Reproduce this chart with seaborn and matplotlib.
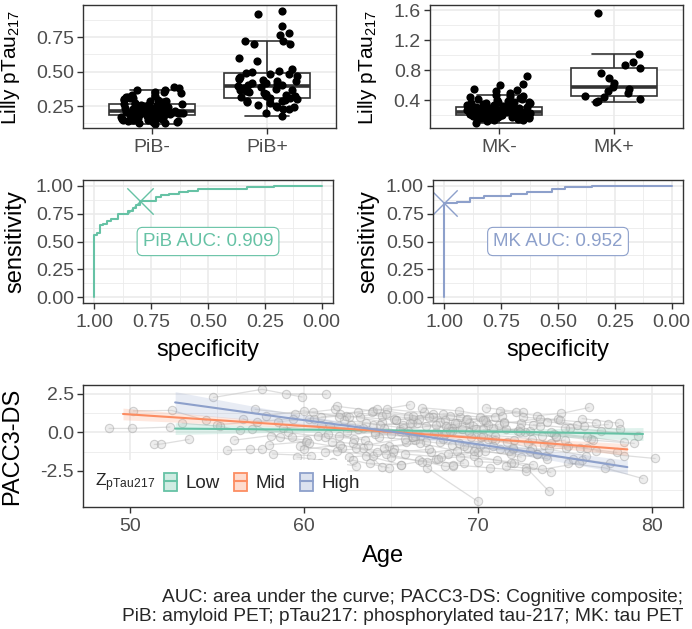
import matplotlib
matplotlib.use('Agg')
import matplotlib.pyplot as plt
from matplotlib.patches import Rectangle, Patch
from matplotlib.lines import Line2D
from matplotlib.ticker import FixedLocator
import seaborn as sns
import pandas as pd
import numpy as np

# ---------------- data ----------------
pib_neg = [0.12, 0.126, 0.13, 0.133, 0.137, 0.14, 0.142, 0.146, 0.147, 0.15,
           0.152, 0.155, 0.158, 0.161, 0.163, 0.166, 0.17, 0.172, 0.175, 0.178, 0.181, 0.184,
           0.186, 0.188, 0.19, 0.191, 0.193, 0.195, 0.196, 0.197, 0.199, 0.2, 0.201, 0.203,
           0.204, 0.205, 0.206, 0.207, 0.208, 0.21, 0.21, 0.211, 0.212, 0.213, 0.214,
           0.216, 0.218, 0.22, 0.222, 0.225, 0.226, 0.228, 0.23, 0.232, 0.235, 0.236, 0.238,
           0.24, 0.243, 0.245, 0.247, 0.25, 0.252, 0.255, 0.257, 0.26, 0.262, 0.264,
           0.268, 0.272, 0.277, 0.28, 0.284, 0.289, 0.292, 0.296, 0.3, 0.305, 0.31, 0.314,
           0.318, 0.32, 0.33, 0.342, 0.35, 0.355, 0.364, 0.37, 0.38, 0.386]
pib_pos = [0.18, 0.2, 0.225, 0.23, 0.245, 0.245, 0.25, 0.26, 0.27, 0.28, 0.285, 0.29,
           0.295, 0.3, 0.305, 0.31, 0.315, 0.32, 0.325, 0.33, 0.34, 0.345, 0.35, 0.36,
           0.365, 0.37, 0.375, 0.38, 0.39, 0.395, 0.4, 0.405, 0.41, 0.415, 0.42, 0.43,
           0.435, 0.44, 0.45, 0.455, 0.46, 0.47, 0.48, 0.485, 0.49, 0.5, 0.505, 0.52,
           0.578, 0.597, 0.699, 0.70, 0.723, 0.726, 0.77, 0.78, 0.835, 0.917, 0.944]
mk_neg = [0.10, 0.12, 0.13, 0.14, 0.145, 0.15, 0.15, 0.155, 0.16, 0.16,
          0.165, 0.168, 0.17, 0.172, 0.175, 0.178, 0.18, 0.182, 0.185, 0.187,
          0.19, 0.192, 0.195, 0.197, 0.198, 0.2, 0.2, 0.202, 0.203, 0.204,
          0.205, 0.207, 0.209, 0.21, 0.212, 0.214, 0.215, 0.217, 0.219, 0.22,
          0.222, 0.224, 0.225, 0.227, 0.229, 0.23, 0.232, 0.233, 0.235, 0.236,
          0.237, 0.238, 0.239, 0.24, 0.241, 0.242, 0.243, 0.244, 0.245, 0.245,
          0.247, 0.249, 0.25, 0.252, 0.254, 0.256, 0.258, 0.26, 0.262, 0.264,
          0.266, 0.268, 0.27, 0.272, 0.275, 0.277, 0.28, 0.282, 0.284, 0.286,
          0.288, 0.29, 0.292, 0.295, 0.297, 0.3, 0.302, 0.305, 0.308, 0.31,
          0.315, 0.32, 0.325, 0.33, 0.335, 0.34, 0.345, 0.35, 0.355, 0.36,
          0.365, 0.37, 0.375, 0.38, 0.39, 0.4, 0.41, 0.42, 0.43, 0.44,
          0.45, 0.46, 0.47, 0.5, 0.52, 0.53, 0.55, 0.6, 0.62, 0.72]
mk_pos = [0.374, 0.39, 0.41, 0.435, 0.457, 0.487, 0.52, 0.55, 0.58, 0.63, 0.69,
          0.76, 0.826, 0.87, 0.913, 1.017, 1.566]

pib_spec = [1.0, 1.0, 0.99, 0.99, 0.975, 0.975, 0.96, 0.96, 0.945, 0.945, 0.925, 0.925,
            0.895, 0.895, 0.87, 0.87, 0.85, 0.85, 0.83, 0.83, 0.815, 0.815, 0.8, 0.8,
            0.728, 0.728, 0.706, 0.706, 0.67, 0.67, 0.626, 0.626, 0.59, 0.59, 0.546, 0.546,
            0.327, 0.327, 0.211, 0.211, 0.0]
pib_sens = [0.0, 0.558, 0.558, 0.573, 0.573, 0.644, 0.644, 0.66, 0.66, 0.682, 0.682, 0.70,
            0.70, 0.742, 0.742, 0.75, 0.75, 0.77, 0.77, 0.80, 0.80, 0.83, 0.83, 0.866,
            0.866, 0.896, 0.896, 0.914, 0.914, 0.926, 0.926, 0.944, 0.944, 0.955, 0.955, 0.97,
            0.97, 0.985, 0.985, 1.0, 1.0]
pib_best = (0.80, 0.866)
pib_auc = 0.909

mk_spec = [1.0, 1.0, 0.944, 0.944, 0.886, 0.886, 0.827, 0.827, 0.707, 0.707, 0.637, 0.637,
           0.527, 0.527, 0.469, 0.469, 0.351, 0.351, 0.0]
mk_sens = [0.0, 0.84, 0.84, 0.855, 0.855, 0.89, 0.89, 0.905, 0.905, 0.926, 0.926, 0.947,
           0.947, 0.973, 0.973, 0.988, 0.988, 1.0, 1.0]
mk_best = (1.0, 0.84)
mk_auc = 0.952

# longitudinal visits, one inner list per participant
visit_age = [[48.8, 50.1, 52.3], [51.4, 51.8, 53.4], [50.2, 52.4, 54.4], [54.8, 57.6, 59.9],
             [55.6, 56.9, 57.6], [53.0, 55.2, 56.3], [56.5, 58.6, 60.2], [59.0, 61.3],
             [57.2, 59.5, 61.8], [58.0, 60.1, 62.2], [58.8, 61.0, 63.1], [59.6, 61.7, 63.0],
             [60.3, 62.4, 64.5], [60.8, 62.9, 65.0], [61.2, 63.4, 64.5], [61.9, 64.0, 66.1],
             [62.5, 64.6, 66.7], [62.8, 64.9, 67.0], [63.2, 65.3, 67.4], [63.6, 65.6, 67.6],
             [64.0, 66.2, 68.3], [64.3, 66.4, 68.5], [64.8, 66.9, 69.0], [65.2, 67.3, 69.4],
             [65.5, 67.6, 69.7], [65.9, 68.0, 70.1], [66.3, 68.4, 70.5], [66.6, 68.1, 68.6],
             [67.1, 70.0], [67.0, 69.1, 71.2], [67.5, 69.6, 71.7], [68.0, 70.1, 72.2],
             [68.3, 70.4, 72.5], [68.8, 70.9, 73.0], [69.2, 71.3, 73.4], [69.5, 71.6, 73.7],
             [70.0, 72.1, 74.2], [70.4, 72.5, 74.6], [70.8, 72.9, 75.0], [71.3, 73.4, 74.8, 76.4],
             [71.8, 73.9, 76.0], [72.3, 74.4, 76.5], [72.8, 74.1], [73.2, 75.3, 77.5],
             [73.8, 75.9, 78.0], [74.5, 76.6, 79.0], [75.2, 77.3, 79.5], [76.0, 78.1],
             [76.8, 78.4, 80.2], [57.0, 59.1, 61.2], [59.8, 61.9, 64.0], [61.5, 63.6, 65.7],
             [62.0, 64.1, 66.2], [63.0, 65.1, 67.2], [64.5, 66.6, 68.7], [65.0, 67.1, 69.2],
             [66.0, 68.1, 70.2], [67.8, 69.9, 72.0], [68.5, 70.6, 72.7], [69.0, 71.1, 73.2],
             [70.5, 72.6], [71.0, 73.1, 75.2], [72.0, 74.1, 76.2], [60.5, 62.6, 64.7],
             [63.8, 65.6], [58.2, 60.4], [66.8, 68.9, 71.0], [74.0, 76.1, 78.2],
             [62.3, 64.4, 66.5], [65.7, 67.8, 69.9],
             [58.5, 60.6, 62.7], [59.3, 61.4, 63.5], [60.0, 62.1, 64.2], [61.0, 63.1, 65.2],
             [61.6, 63.7, 65.8], [62.6, 64.7, 66.8], [63.4, 65.5, 67.6], [63.9, 66.0, 68.1],
             [64.6, 66.7, 68.8], [65.3, 67.4, 69.5], [65.8, 67.9, 70.0], [66.4, 68.5, 70.6],
             [67.2, 69.3, 71.4], [67.7, 69.8, 71.9], [68.2, 70.3, 72.4], [68.9, 71.0, 73.1],
             [69.4, 71.5, 73.6], [69.8, 71.9, 74.0], [70.3, 72.4, 74.5], [70.9, 73.0, 75.1],
             [71.5, 73.6, 75.7], [72.1, 74.2, 76.3], [72.6, 74.7, 76.8], [73.4, 75.5, 77.6],
             [74.2, 76.3, 78.4], [75.0, 77.1, 79.2], [60.9, 62.8, 64.9], [62.1, 64.2, 66.3],
             [64.1, 66.3, 68.4], [66.1, 68.2, 70.3], [68.6, 70.7, 72.8], [71.6, 73.7, 75.8],
             [55.0, 57.3, 59.4], [56.0, 58.1, 60.3], [57.8, 60.0, 62.0]]
visit_pacc = [[0.26, 0.26, 0.35], [-0.78, -0.75, -0.45], [1.40, 1.43, 0.78], [2.27, 2.80, 2.30],
              [-1.17, -1.10, -1.10], [0.60, 0.40, 0.13], [0.90, -0.32, -0.50], [2.50, 2.47],
              [1.50, 1.20, 1.50], [-0.80, -0.60, -1.00], [0.30, 0.50, 0.20], [-1.60, -1.90, -2.20],
              [0.90, 1.10, 0.70], [-0.20, -0.40, -0.10], [-1.30, -1.00, -2.27], [1.70, 1.40, 1.80],
              [0.00, 0.30, -0.20], [-0.70, -0.90, -0.60], [1.00, 0.80, 1.20], [-1.50, -2.10, -1.70],
              [0.50, 0.60, 0.30], [-0.30, -0.50, -0.80], [1.50, 1.30, 1.00], [-1.10, -1.30, -1.00],
              [0.20, 0.00, 0.40], [-0.60, -0.40, -0.90], [0.90, 1.10, 0.70], [-1.80, -2.20, -2.20],
              [-2.30, -4.48], [0.40, 0.20, 0.50], [-0.10, -0.30, -0.60], [1.20, 1.00, 1.30],
              [-1.40, -1.20, -1.60], [0.60, 0.30, 0.10], [-0.90, -1.10, -1.40], [0.00, 0.20, -0.20],
              [-1.90, -2.00, -2.60], [0.80, 0.60, 0.90], [-0.40, -0.70, -0.50], [1.40, 1.10, 1.23, 1.62],
              [-1.20, -1.50, -1.80], [0.10, -0.10, -0.40], [-2.30, -3.83], [0.50, 0.30, 0.52],
              [-0.80, -1.00, -1.30], [-0.20, -0.50, -0.71], [-2.00, -2.30, -3.00], [0.90, 0.60],
              [-1.20, -1.50, -1.69], [0.20, 0.00, -0.30], [-0.90, -1.20, -1.50], [0.40, 0.60, 0.30],
              [-0.20, 0.00, -0.30], [-1.00, -1.30, -1.10], [1.10, 0.90, 0.60], [-1.60, -1.90, -2.00],
              [0.10, -0.10, -0.30], [-0.60, -1.00, -1.10], [0.30, 0.50, 0.00], [-1.60, -1.80, -2.10],
              [1.60, 1.30], [-0.20, -0.40, -0.90], [-1.00, -1.10, -1.50], [1.30, 1.00, 1.20],
              [-2.00, -2.10], [-1.40, -1.50], [1.60, 1.40, 1.00], [0.70, 0.40, 0.20],
              [0.80, 0.50, 0.60], [0.50, 0.70, 0.20],
              [0.7, 0.9, 0.5], [-0.3, -0.1, -0.5], [-1.1, -0.8, -1.3], [1.0, 1.3, 0.9],
              [-0.6, -0.8, -0.4], [-1.6, -1.4, -1.9], [0.3, 0.1, 0.5], [1.3, 1.1, 0.8],
              [-1.0, -0.7, -1.2], [0.8, 1.0, 0.6], [-1.4, -1.6, -1.3], [-0.2, 0.1, -0.4],
              [1.0, 0.8, 1.1], [-1.7, -1.5, -2.0], [0.0, -0.2, 0.3], [-0.7, -0.5, -1.0],
              [0.9, 0.7, 0.4], [-1.2, -1.4, -1.7], [0.2, 0.0, -0.3], [-0.9, -1.2, -1.0],
              [0.6, 0.9, 0.5], [-0.5, -0.7, -1.0], [1.0, 0.8, 0.6], [-1.4, -1.7, -2.0],
              [0.0, -0.3, -0.6], [0.3, 0.1, -0.2], [-2.0, -1.8, -2.3], [1.2, 1.5, 1.1],
              [-0.1, -0.3, 0.1], [0.6, 0.4, 0.8], [-2.1, -2.3, -2.5], [-2.2, -2.4, -2.0],
              [0.5, 0.7, 0.9], [-0.5, -0.2, -0.7], [1.1, 1.4, 1.0]]

# fitted trajectories per pTau217 tertile: age, fit, lower and upper CI
groups = ['Low', 'Mid', 'High']
fit_age = {'Low': [52.6, 59.0, 65.0, 72.0, 79.5],
           'Mid': [49.6, 57.0, 64.0, 71.0, 78.6],
           'High': [52.6, 59.0, 65.0, 72.0, 78.6]}
fit_val = {'Low': [0.25, 0.19, 0.13, 0.04, -0.1],
           'Mid': [1.2, 0.65, 0.12, -0.45, -1.1],
           'High': [1.95, 0.95, 0.06, -1.1, -2.25]}
fit_lo = {'Low': [-0.13, 0.01, 0.03, -0.14, -0.52],
          'Mid': [0.82, 0.45, 0.02, -0.63, -1.48],
          'High': [1.25, 0.6, -0.09, -1.35, -2.7]}
fit_hi = {'Low': [0.63, 0.37, 0.23, 0.22, 0.32],
          'Mid': [1.58, 0.85, 0.22, -0.27, -0.72],
          'High': [2.65, 1.3, 0.21, -0.85, -1.8]}

caption = ("AUC: area under the curve; PACC3-DS: Cognitive composite;\n"
           "PiB: amyloid PET; pTau217: phosphorylated tau-217; MK: tau PET")

GREEN, ORANGE, BLUE = '#66C2A5', '#FC8D62', '#8DA0CB'
group_col = {'Low': GREEN, 'Mid': ORANGE, 'High': BLUE}

sns.set_theme(style='white')
plt.rcParams['font.family'] = ['Liberation Sans', 'DejaVu Sans']
plt.rcParams['mathtext.default'] = 'regular'
plt.rcParams['axes.unicode_minus'] = False

TICK_FS = 14
TITLE_FS = 17

W, H = 692, 629
fig = plt.figure(figsize=(W / 100, H / 100), dpi=100)


def px_axes(x0, y0, x1, y1):
    return fig.add_axes([x0 / W, 1 - y1 / H, (x1 - x0) / W, (y1 - y0) / H])


def theme_bw(ax, xminor=None, yminor=None):
    ax.set_facecolor('white')
    for s in ax.spines.values():
        s.set_visible(True)
        s.set_color('#333333')
        s.set_linewidth(1.0)
        s.set_zorder(10)
    ax.set_axisbelow(True)
    if xminor is not None:
        ax.xaxis.set_minor_locator(FixedLocator(xminor))
    if yminor is not None:
        ax.yaxis.set_minor_locator(FixedLocator(yminor))
    ax.grid(which='major', color='#EBEBEB', lw=1.2)
    ax.grid(which='minor', color='#EBEBEB', lw=0.6)
    ax.tick_params(which='major', length=4, width=1, color='#333333',
                   labelcolor='#4D4D4D', labelsize=TICK_FS, pad=2.5,
                   bottom=True, left=True)
    ax.tick_params(axis='x', which='major', pad=4)
    ax.tick_params(which='minor', length=0)


def box_panel(ax, neg, pos, labels, yticks, ylabels, ylim, yminor, labx):
    df = pd.DataFrame({'grp': [labels[0]] * len(neg) + [labels[1]] * len(pos),
                       'val': neg + pos})
    sns.boxplot(data=df, x='grp', y='val', order=labels, color='white',
                linecolor='#333333', linewidth=1.2, width=0.75, showfliers=False,
                medianprops={'linewidth': 2.6}, ax=ax)
    sns.stripplot(data=df, x='grp', y='val', order=labels, color='black',
                  size=5.9, jitter=0.28, ax=ax, zorder=3)
    ax.set_xlim(-0.6, 1.6)
    ax.set_ylim(*ylim)
    ax.set_yticks(yticks)
    ax.set_yticklabels(ylabels)
    theme_bw(ax, yminor=yminor)
    ax.set_xlabel('')
    ax.set_ylabel('Lilly pTau$_{217}$', fontsize=15, color='black')
    ax.yaxis.set_label_coords(labx, 0.49)


def roc_panel(ax, spec, sens, best, auc, name, color, labx):
    sns.lineplot(x=spec, y=sens, sort=False, estimator=None, color=color, lw=1.5, ax=ax)
    sns.scatterplot(x=[best[0]], y=[best[1]], marker='x', s=360, color=color,
                    linewidth=1.0, ax=ax)
    ax.text(0.5, 0.5, f'{name} AUC: {auc:.3f}', color=color, fontsize=13.5,
            ha='center', va='center',
            bbox=dict(boxstyle='round,pad=0.3,rounding_size=0.3', fc='white',
                      ec=color, lw=0.8))
    ax.set_xlim(1.05, -0.05)
    ax.set_ylim(-0.05, 1.05)
    ticks = [1.0, 0.75, 0.5, 0.25, 0.0]
    ax.set_xticks(ticks)
    ax.set_xticklabels([f'{t:.2f}' for t in ticks])
    ax.set_yticks(ticks)
    ax.set_yticklabels([f'{t:.2f}' for t in ticks])
    theme_bw(ax, xminor=[0.875, 0.625, 0.375, 0.125], yminor=[0.875, 0.625, 0.375, 0.125])
    ax.set_xlabel('specificity', fontsize=TITLE_FS, color='black')
    ax.set_ylabel('sensitivity', fontsize=TITLE_FS, color='black')
    ax.xaxis.set_label_coords(0.5, -0.29)
    ax.yaxis.set_label_coords(labx, 0.5)


# ---- top row: boxplots ----
np.random.seed(3)
ax1 = px_axes(83, 5, 336, 128)
box_panel(ax1, pib_neg, pib_pos, ['PiB-', 'PiB+'], [0.25, 0.5, 0.75],
          ['0.25', '0.50', '0.75'], (0.09, 0.985), [0.125, 0.375, 0.625, 0.875], -0.24)
ax2 = px_axes(430, 5, 683, 128)
box_panel(ax2, mk_neg, mk_pos, ['MK-', 'MK+'], [0.4, 0.8, 1.2, 1.6],
          ['0.4', '0.8', '1.2', '1.6'], (0.027, 1.667), [0.2, 0.6, 1.0, 1.4], -0.2)

# ---- middle row: ROC curves ----
ax3 = px_axes(83, 180, 333, 303)
roc_panel(ax3, pib_spec, pib_sens, pib_best, pib_auc, 'PiB', GREEN, -0.225)
ax4 = px_axes(433, 180, 683, 303)
roc_panel(ax4, mk_spec, mk_sens, mk_best, mk_auc, 'MK', BLUE, -0.215)

# ---- bottom: PACC3-DS trajectories ----
ax5 = px_axes(83, 385, 683, 507)
long_df = pd.DataFrame({
    'subj': [i for i, a in enumerate(visit_age) for _ in a],
    'age': [v for a in visit_age for v in a],
    'pacc': [v for p in visit_pacc for v in p],
})
sns.lineplot(data=long_df, x='age', y='pacc', units='subj', estimator=None,
             color='#C8C8C8', alpha=0.6, lw=0.9, ax=ax5, zorder=1)
sns.scatterplot(data=long_df, x='age', y='pacc', s=36,
                facecolor=(0.80, 0.80, 0.80, 0.35), edgecolor=(0.62, 0.62, 0.62, 0.45),
                linewidth=0.8, ax=ax5, zorder=2)
for g in groups:
    ax5.fill_between(fit_age[g], fit_lo[g], fit_hi[g], color=group_col[g],
                     alpha=0.2, lw=0, zorder=3)
    sns.lineplot(x=fit_age[g], y=fit_val[g], color=group_col[g], lw=1.5, ax=ax5,
                 zorder=4)
ax5.set_xlim(47.3, 81.8)
ax5.set_ylim(-4.84, 3.08)
ax5.set_xticks([50, 60, 70, 80])
ax5.set_yticks([-2.5, 0.0, 2.5])
ax5.set_yticklabels(['-2.5', '0.0', '2.5'])
theme_bw(ax5, xminor=[55, 65, 75], yminor=[-3.75, -1.25, 1.25])
ax5.set_xlabel('Age', fontsize=TITLE_FS, color='black')
ax5.set_ylabel('PACC3-DS', fontsize=TITLE_FS, color='black')
ax5.xaxis.set_label_coords(0.5, -0.31)
ax5.yaxis.set_label_coords(-0.1, 0.5)

# legend box in lower-left corner
ax5.add_patch(Rectangle((0, 0), 0.44, 0.385, transform=ax5.transAxes,
                        facecolor='white', edgecolor='none', zorder=5))
ax5.text(0.02, 0.2, 'Z$_{pTau217}$', transform=ax5.transAxes, fontsize=12.5,
         va='center', ha='left', zorder=6)
handles = [(Patch(facecolor=group_col[g], alpha=0.3, edgecolor='none'),
            Patch(facecolor='none', edgecolor=group_col[g], lw=1.3),
            Line2D([], [], color=group_col[g], lw=1.5)) for g in groups]
leg = ax5.legend(handles, groups, loc='center left', bbox_to_anchor=(0.135, 0.2),
                 ncol=3, frameon=False, fontsize=13.5, handlelength=0.7,
                 handleheight=1.1, handletextpad=0.45, columnspacing=0.75,
                 borderpad=0, borderaxespad=0)
leg.set_zorder(7)

fig.text(683 / W, 1 - 607 / H, caption, ha='right', va='center', ma='right',
         fontsize=13.8, linespacing=1.15)

fig.savefig('out.png', dpi=100)
plt.close(fig)
